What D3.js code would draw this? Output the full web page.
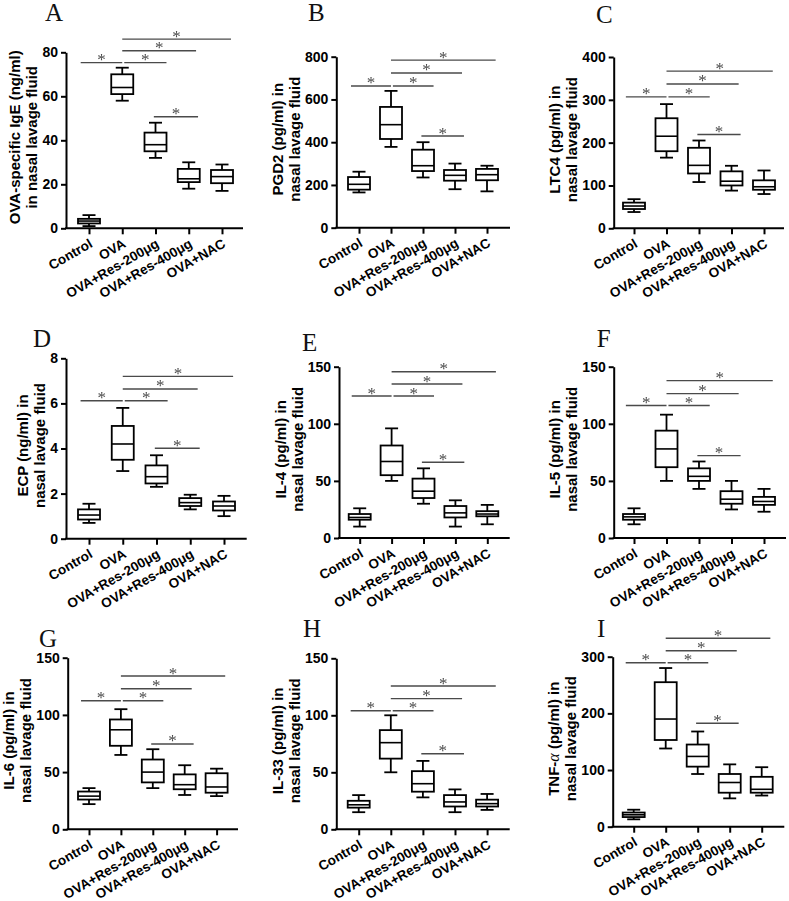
<!DOCTYPE html>
<html><head><meta charset="utf-8">
<script src="https://cdn.jsdelivr.net/npm/d3@7"></script>
<style>body{margin:0;background:#fff}</style></head>
<body>
<svg id="c" width="789" height="901">
  <defs>
    <filter id="gray" x="-50%" y="-50%" width="200%" height="200%">
      <feColorMatrix type="matrix" values="1 0 0 0 0  0 1 0 0 0  0 0 1 0 0  0 0 0 1 0"/>
    </filter>
  </defs>
</svg>
<script>
// ---------- DATA ----------
const categories = ["Control", "OVA", "OVA+Res-200μg", "OVA+Res-400μg", "OVA+NAC"];
// each group: [min, q1, median, q3, max]
const igE  = [[1,2.2,3.3,4.3,6],[58,61,64,70,73],[32,35,38,43.5,48],[18,21,22.5,27,30],[17,20.5,23.5,26.5,29]];
const pgd2 = [[165,178,203,237,262],[378,415,482,565,640],[235,265,290,365,400],[180,220,245,270,300],[170,222,248,275,290]];
const ltc4 = [[38,45,52,60,68],[165,180,215,257,290],[108,128,147,188,205],[88,100,110,133,146],[80,90,97,112,135]];
const ecp  = [[0.7,0.85,1.05,1.3,1.55],[3.0,3.5,4.2,5.0,5.8],[2.3,2.45,2.75,3.25,3.7],[1.3,1.45,1.6,1.8,1.95],[1.0,1.25,1.45,1.65,1.9]];
const il4  = [[10,16,18,21,26],[50,55,67,81,96],[30,35,41,52,61],[10,18,22,28,33],[12,19,21,23.5,29]];
const il5  = [[12,16,18.5,21,26],[50,62,78,94,108],[43,50,54,61,67],[25,30,34,41,50],[23,29,32,36,43]];
const il6  = [[22,26,29,33,36],[65,73,87,96,105],[36,41,50,61,70],[30,35,39,48,56],[29,32,37,49,53]];
const il33 = [[15,19,21.5,25,30],[50,62,76,87,100],[28,33,40,51,60],[15,20,24,30,35],[17,20,22.5,26,31]];
const tnf  = [[13,17,21,25,30],[138,153,190,255,280],[93,106,124,145,168],[50,60,78,93,110],[55,60,66,88,105]];

const letters = ["A","B","C","D","E","F","G","H","I"];
const yTitles = [
  ["OVA-specific IgE (ng/ml)", "in nasal lavage fluid"],
  ["PGD2 (pg/ml) in", "nasal lavage fluid"],
  ["LTC4 (pg/ml) in", "nasal lavage fluid"],
  ["ECP (ng/ml) in", "nasal lavage fluid"],
  ["IL-4 (pg/ml) in", "nasal lavage fluid"],
  ["IL-5 (pg/ml) in", "nasal lavage fluid"],
  ["IL-6 (pg/ml) in", "nasal lavage fluid"],
  ["IL-33 (pg/ml) in", "nasal lavage fluid"],
  ["TNF-α (pg/ml) in", "nasal lavage fluid"]
];
const yTicks = [
  [0,20,40,60,80],
  [0,200,400,600,800],
  [0,100,200,300,400],
  [0,2,4,6,8],
  [0,50,100,150],
  [0,50,100,150],
  [0,50,100,150],
  [0,50,100,150],
  [0,100,200,300]
];
// significance comparisons (category index pairs), all marked "*"
const comparisons = [[0,1],[1,2],[1,3],[1,4],[2,3]];
const sigIgE  = [75.3,75.3,80.7,86,50.7];
const sigPgd2 = [663,663,724,784,429];
const sigLtc4 = [307,307,337,367,219];
const sigEcp  = [6.12,6.12,6.64,7.2,4.01];
const sigIl4  = [124.3,124.3,134.8,145.6,66.3];
const sigIl5  = [116,116,126.4,137.8,72.1];
const sigIl6  = [112.4,112.4,122.9,134,74.6];
const sigIl33 = [104,104,114.6,125.7,66.3];
const sigTnf  = [289.4,289.4,310.6,332.5,182.5];

const seriesData = [igE, pgd2, ltc4, ecp, il4, il5, il6, il33, tnf];
const sigData = [sigIgE, sigPgd2, sigLtc4, sigEcp, sigIl4, sigIl5, sigIl6, sigIl33, sigTnf];

// ---------- LAYOUT ----------
const layout = [
  {x0:66,    yB:228.3, yT:52.3,  c0:89,    sp:33.25, xEnd:243,   lx:45,    ly:20.7},
  {x0:336.3, yB:227.7, yT:56.7,  c0:359,   sp:32,    xEnd:510,   lx:308,   ly:20.7},
  {x0:613.7, yB:228.3, yT:57,    c0:634,   sp:32.5,  xEnd:784,   lx:596,   ly:23},
  {x0:66,    yB:538.7, yT:358.3, c0:89,    sp:33.75, xEnd:246.7, lx:33,    ly:346.7},
  {x0:339,   yB:538,   yT:366.7, c0:359.7, sp:31.9,  xEnd:509.7, lx:302,   ly:350.7},
  {x0:613.7, yB:538,   yT:366.7, c0:634,   sp:32.5,  xEnd:786,   lx:596.7, ly:346.7},
  {x0:67.7,  yB:829.3, yT:657.7, c0:89,    sp:31.9,  xEnd:238,   lx:39,    ly:646.7},
  {x0:336.3, yB:829.3, yT:658.3, c0:358.7, sp:32.1,  xEnd:509.7, lx:303,   ly:637.3},
  {x0:612.7, yB:826.7, yT:656.7, c0:633.7, sp:32,    xEnd:784.3, lx:597,   ly:637.3}
];
const bracketOffsets = [[-0.25,0.0],[0.06,0.33],[0.0,0.22],[0.0,0.27],[-0.05,0.28]];

const svg = d3.select("#c");
const SANS = "'Liberation Sans', Arial, Helvetica, sans-serif";
const SERIF = "'Liberation Serif', 'Times New Roman', serif";

seriesData.forEach((data, i) => {
  const L = layout[i];
  const ticks = yTicks[i];
  const g = svg.append("g");
  const y = d3.scaleLinear().domain([0, ticks[ticks.length-1]]).range([L.yB, L.yT]);
  const x = d3.scalePoint().domain(categories).range([L.c0, L.c0 + 4*L.sp]).padding(0);

  // panel letter
  g.append("text").attr("x", L.lx).attr("y", L.ly)
    .attr("font-family", SERIF).attr("font-size", 25).attr("fill", "#111")
    .text(letters[i]);

  // y axis
  const ya = g.append("g").attr("transform", `translate(${L.x0},0)`)
    .call(d3.axisLeft(y).tickValues(ticks).tickSize(5).tickSizeOuter(0).tickPadding(3));
  ya.select(".domain").attr("stroke", "#000").attr("stroke-width", 2);
  ya.selectAll(".tick line").attr("stroke", "#000").attr("stroke-width", 2);
  ya.selectAll(".tick text").attr("font-family", SANS).attr("font-weight", "bold")
    .attr("font-size", 14).attr("fill", "#000");
  let maxW = 0;
  ya.selectAll(".tick text").each(function(){ maxW = Math.max(maxW, this.getComputedTextLength()); });

  // x axis
  const xa = g.append("g").attr("transform", `translate(0,${L.yB})`)
    .call(d3.axisBottom(x).tickSize(6).tickSizeOuter(0));
  xa.select(".domain").remove();
  xa.selectAll(".tick line").attr("stroke", "#000").attr("stroke-width", 2);
  xa.selectAll(".tick text")
    .attr("font-family", SANS).attr("font-weight", "bold").attr("font-size", 13.5).attr("fill", "#000")
    .attr("text-anchor", "end").attr("dy", null).attr("y", 0)
    .attr("transform", "translate(4,18) rotate(-30)");
  g.append("line").attr("x1", L.x0 - 1).attr("x2", L.xEnd).attr("y1", L.yB).attr("y2", L.yB)
    .attr("stroke", "#000").attr("stroke-width", 2);

  // y title
  const cy = (L.yB + L.yT) / 2 - 3;
  const b2 = L.x0 - 8 - maxW - 5;
  const b1 = b2 - 17;
  [b1, b2].forEach((bx, k) => {
    const t = g.append("text")
      .attr("transform", `translate(${bx},${cy}) rotate(-90)`)
      .attr("text-anchor", "middle").attr("font-family", SANS).attr("font-weight", "bold")
      .attr("font-size", 15).attr("fill", "#000");
    const s = yTitles[i][k];
    if (s.includes("α")) {
      const parts = s.split("α");
      t.append("tspan").text(parts[0]);
      t.append("tspan").attr("font-family", SERIF).attr("font-style", "italic").attr("font-weight", "normal").attr("font-size", 16).text("α");
      t.append("tspan").text(parts[1]);
    } else t.text(s);
  });

  // boxes
  const bw = 22, cw = 13;
  const grp = g.selectAll(".box").data(data).join("g").attr("class", "box")
    .attr("transform", (d, j) => `translate(${x(categories[j])},0)`);
  grp.append("line").attr("x1", 0).attr("x2", 0).attr("y1", d => y(d[0])).attr("y2", d => y(d[1]))
    .attr("stroke", "#000").attr("stroke-width", 1.8);
  grp.append("line").attr("x1", 0).attr("x2", 0).attr("y1", d => y(d[3])).attr("y2", d => y(d[4]))
    .attr("stroke", "#000").attr("stroke-width", 1.8);
  grp.append("line").attr("x1", -cw/2).attr("x2", cw/2).attr("y1", d => y(d[0])).attr("y2", d => y(d[0]))
    .attr("stroke", "#000").attr("stroke-width", 1.8);
  grp.append("line").attr("x1", -cw/2).attr("x2", cw/2).attr("y1", d => y(d[4])).attr("y2", d => y(d[4]))
    .attr("stroke", "#000").attr("stroke-width", 1.8);
  grp.append("rect").attr("x", -bw/2).attr("width", bw)
    .attr("y", d => y(d[3])).attr("height", d => y(d[1]) - y(d[3]))
    .attr("fill", "#fff").attr("stroke", "#000").attr("stroke-width", 1.8);
  grp.append("line").attr("x1", -bw/2).attr("x2", bw/2).attr("y1", d => y(d[2])).attr("y2", d => y(d[2]))
    .attr("stroke", "#000").attr("stroke-width", 1.6);

  // significance brackets
  const sg = g.append("g").attr("filter", "url(#gray)");
  comparisons.forEach((c, k) => {
    const xs = x(categories[c[0]]) + bracketOffsets[k][0] * L.sp;
    const xe = x(categories[c[1]]) + bracketOffsets[k][1] * L.sp;
    const yy = y(sigData[i][k]);
    sg.append("line").attr("x1", xs).attr("x2", xe).attr("y1", yy).attr("y2", yy)
      .attr("stroke", "#4a4a4a").attr("stroke-width", 1.4);
    sg.append("text").attr("x", (xs + xe) / 2).attr("y", yy + 2.5)
      .attr("text-anchor", "middle").attr("font-family", SERIF).attr("font-size", 17)
      .attr("fill", "#4a4a4a").text("*");
  });
});
</script>
</body></html>
